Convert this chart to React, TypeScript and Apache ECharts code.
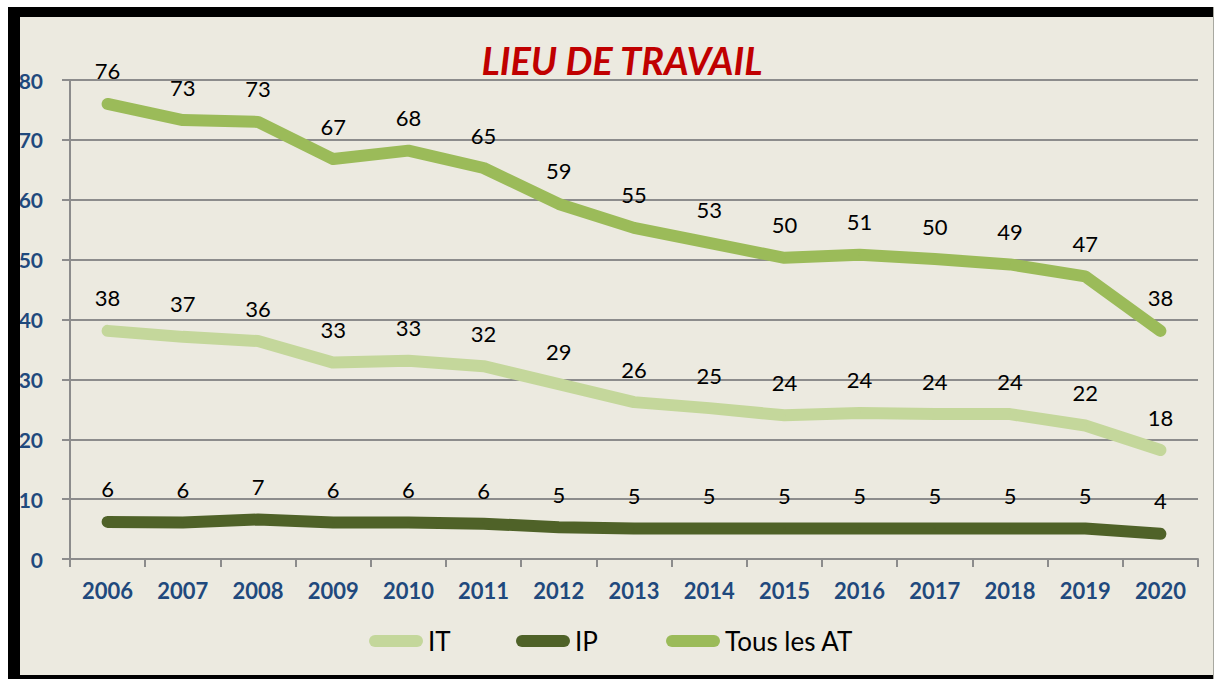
import React, { useEffect, useRef } from "react";
import * as echarts from "echarts";

const years = ["2006","2007","2008","2009","2010","2011","2012","2013","2014","2015","2016","2017","2018","2019","2020"];
const tousAT = [76, 73.3, 73, 66.8, 68.2, 65.3, 59.3, 55.3, 52.8, 50.3, 50.8, 50.1, 49.2, 47.2, 38.1];
const itValues = [38.1, 37.1, 36.4, 32.8, 33.1, 32.2, 29.2, 26.2, 25.2, 24, 24.4, 24.2, 24.2, 22.3, 18.2];
const ipValues = [6.2, 6.1, 6.6, 6.1, 6.1, 5.9, 5.3, 5.1, 5.1, 5.1, 5.1, 5.1, 5.1, 5.1, 4.2];
const title = "LIEU DE TRAVAIL";

const C_IT = "#C4D79B";
const C_IP = "#4F6228";
const C_AT = "#9BBB59";
const BLUE = "#1F497D";
const FONT = "Lato, 'Noto Sans', sans-serif";
const legendIcon = "path://M6,0 H48 A6,6 0 0 1 48,12 H6 A6,6 0 0 1 6,0 Z";

export default function App() {
  const ref = useRef<HTMLDivElement>(null);
  useEffect(() => {
    if (!ref.current) return;
    const chart = echarts.init(ref.current, null, { renderer: "svg" });
    const mkSeries = (name: string, data: number[], color: string) => ({
      name,
      type: "line",
      data,
      symbol: "circle",
      symbolSize: 2,
      showSymbol: true,
      smooth: false,
      lineStyle: { color, width: 12, cap: "round", join: "round" },
      itemStyle: { color },
      label: {
        show: true,
        position: "top",
        distance: 21,
        color: "#000",
        fontSize: 22,
        fontFamily: FONT,
        formatter: (p: any) => String(Math.round(p.value)),
      },
      labelLayout: { hideOverlap: false },
      z: 3,
    });
    const mkLegend = (name: string, left: number) => ({
      data: [name],
      left,
      top: 623,
      icon: legendIcon,
      itemWidth: 54,
      itemHeight: 12,
      itemGap: 0,
      textStyle: { color: "#000", fontSize: 26, fontFamily: FONT },
      selectedMode: false,
    });
    chart.setOption({
      animation: false,
      backgroundColor: "transparent",
      title: {
        text: title,
        left: 617,
        textAlign: "center",
        top: 36,
        textStyle: { color: "#C00000", fontSize: 38, fontWeight: "bold", fontStyle: "italic", fontFamily: FONT },
      },
      legend: [mkLegend("IT", 364), mkLegend("IP", 511), mkLegend("Tous les AT", 661)],
      grid: { left: 70, right: 17, top: 80, bottom: 120, containLabel: false },
      xAxis: {
        type: "category",
        data: years,
        boundaryGap: true,
        axisLine: { show: true, lineStyle: { color: "#8C8C8C", width: 2 } },
        axisTick: { show: true, length: 8, lineStyle: { color: "#8C8C8C", width: 2 } },
        axisLabel: { color: BLUE, fontSize: 22, fontWeight: "bold", fontFamily: FONT, margin: 20 },
      },
      yAxis: {
        type: "value",
        min: 0,
        max: 80,
        interval: 10,
        axisLine: { show: true, lineStyle: { color: "#8C8C8C", width: 2 } },
        axisTick: { show: true, length: 8, lineStyle: { color: "#8C8C8C", width: 2 } },
        axisLabel: { color: BLUE, fontSize: 21, fontWeight: "bold", fontFamily: FONT, margin: 27 },
        splitLine: { show: true, lineStyle: { color: "#8C8C8C", width: 2 } },
      },
      series: [mkSeries("IT", itValues, C_IT), mkSeries("IP", ipValues, C_IP), mkSeries("Tous les AT", tousAT, C_AT)],
    });
    return () => chart.dispose();
  }, []);

  const abs = (s: React.CSSProperties): React.CSSProperties => ({ position: "absolute", ...s });
  return (
    <div style={abs({ left: 0, top: 0, width: 1215, height: 679, background: "#fff", overflow: "hidden" })}>
      <div style={abs({ left: 8, top: 7, width: 1206, height: 672, background: "#ECEAE0" })} />
      <div ref={ref} style={abs({ left: 0, top: 0, width: 1215, height: 679 })} />
      <div style={abs({ left: 8, top: 7, width: 12, height: 672, background: "#000", pointerEvents: "none" })} />
      <div style={abs({ left: 8, top: 7, width: 1206, height: 10, background: "#000", pointerEvents: "none" })} />
      <div style={abs({ left: 8, top: 675, width: 1206, height: 4, background: "#000", pointerEvents: "none" })} />
      <div style={abs({ left: 1213, top: 7, width: 1, height: 672, background: "#A8A8A0", pointerEvents: "none" })} />
    </div>
  );
}
